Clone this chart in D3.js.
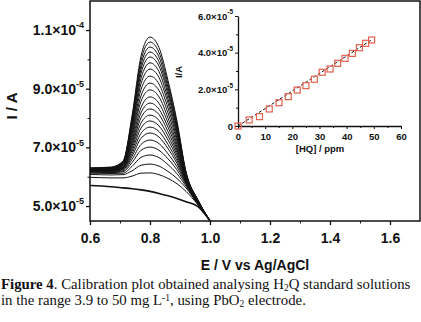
<!DOCTYPE html>
<html>
<head>
<meta charset="utf-8">
<script src="https://cdn.jsdelivr.net/npm/d3@7"></script>
<style>
  body { margin: 0; background: #fff; }
  svg { display: block; }
  .axis path, .axis line { stroke: #111; }
  .tick text { font-family: "Liberation Sans", Arial, sans-serif; font-weight: bold; fill: #111; }
</style>
</head>
<body>
<div id="chart-area"></div>
<script>
// potentials (V) where each voltammogram was read
var potentials = [0.60, 0.67, 0.71, 0.74, 0.77, 0.80, 0.83, 0.86, 0.89, 0.92, 0.96, 1.00]

// blank voltammogram, current in 1e-5 A
var blankCurve = [5.70, 5.66, 5.62, 5.59, 5.55, 5.50, 5.43, 5.35, 5.26, 5.15, 4.98, 4.50]

// voltammograms for increasing HQ additions, current in 1e-5 A
var currents = [
  [5.98, 5.96, 5.96, 6.02, 6.12, 6.13, 6.07, 5.94, 5.76, 5.50, 5.04, 4.50],
  [6.08, 6.06, 6.07, 6.20, 6.39, 6.43, 6.36, 6.18, 5.94, 5.62, 5.05, 4.50],
  [6.12, 6.11, 6.12, 6.35, 6.66, 6.74, 6.65, 6.41, 6.10, 5.68, 5.06, 4.50],
  [6.15, 6.14, 6.17, 6.48, 6.90, 7.01, 6.90, 6.61, 6.23, 5.73, 5.06, 4.50],
  [6.17, 6.16, 6.20, 6.59, 7.10, 7.25, 7.13, 6.78, 6.34, 5.77, 5.07, 4.50],
  [6.19, 6.18, 6.24, 6.69, 7.31, 7.49, 7.35, 6.96, 6.45, 5.80, 5.08, 4.50],
  [6.20, 6.20, 6.26, 6.78, 7.48, 7.69, 7.54, 7.10, 6.54, 5.83, 5.09, 4.50],
  [6.21, 6.21, 6.28, 6.87, 7.66, 7.90, 7.73, 7.25, 6.64, 5.85, 5.10, 4.50],
  [6.22, 6.22, 6.30, 6.96, 7.83, 8.10, 7.92, 7.39, 6.73, 5.88, 5.10, 4.50],
  [6.23, 6.23, 6.32, 7.05, 8.01, 8.31, 8.12, 7.54, 6.82, 5.91, 5.11, 4.50],
  [6.24, 6.24, 6.34, 7.13, 8.18, 8.51, 8.30, 7.69, 6.91, 5.93, 5.12, 4.50],
  [6.25, 6.26, 6.37, 7.22, 8.36, 8.72, 8.50, 7.84, 7.00, 5.96, 5.13, 4.50],
  [6.25, 6.26, 6.38, 7.32, 8.57, 8.96, 8.72, 8.00, 7.10, 5.98, 5.14, 4.50],
  [6.26, 6.27, 6.40, 7.42, 8.76, 9.19, 8.94, 8.17, 7.21, 6.00, 5.14, 4.50],
  [6.26, 6.27, 6.42, 7.51, 8.97, 9.43, 9.16, 8.34, 7.31, 6.02, 5.15, 4.50],
  [6.27, 6.29, 6.44, 7.61, 9.17, 9.67, 9.38, 8.51, 7.41, 6.05, 5.16, 4.50],
  [6.27, 6.29, 6.45, 7.70, 9.35, 9.88, 9.58, 8.65, 7.50, 6.07, 5.17, 4.50],
  [6.28, 6.30, 6.48, 7.78, 9.52, 10.08, 9.77, 8.80, 7.59, 6.09, 5.18, 4.50],
  [6.28, 6.30, 6.49, 7.85, 9.67, 10.25, 9.92, 8.92, 7.66, 6.11, 5.19, 4.50],
  [6.29, 6.31, 6.50, 7.93, 9.81, 10.42, 10.08, 9.04, 7.74, 6.13, 5.19, 4.50],
  [6.29, 6.31, 6.52, 7.99, 9.96, 10.59, 10.24, 9.16, 7.81, 6.14, 5.20, 4.50],
  [6.30, 6.33, 6.53, 8.07, 10.11, 10.76, 10.40, 9.28, 7.89, 6.17, 5.21, 4.50]
]

// calibration (inset): concentration in ppm, peak current in 1e-5 A
var concPpm = [0, 4.1, 7.9, 11.5, 15.1, 18.5, 21.8, 25.0, 28.1, 31.0, 33.9, 36.7, 39.4, 42.1, 44.7, 47.0, 49.2]
var peakCurrent = [0, 0.33, 0.51, 0.93, 1.27, 1.60, 1.96, 2.20, 2.55, 2.93, 3.11, 3.42, 3.69, 3.96, 4.27, 4.51, 4.69]
var fitConc = [0, 49.2]
var fitCurrent = [0, 4.70]

// tick labels
var mainXTicks = [0.6, 0.8, 1.0, 1.2, 1.4, 1.6]
var mainXMinor = [0.7, 0.9, 1.1, 1.3, 1.5]
var mainYTicks = [5, 7, 9, 11]
var mainYMinor = [6, 8, 10]
var mainYBase = ["5.0\u00d710", "7.0\u00d710", "9.0\u00d710", "1.1\u00d710"]
var mainYExp = ["-5", "-5", "-5", "-4"]
var insetXTicks = [0, 10, 20, 30, 40, 50, 60]
var insetXMinor = [5, 15, 25, 35, 45, 55]
var insetYTicks = [0, 2, 4, 6]
var insetYMinor = [1, 3, 5]
var insetYBase = ["0", "2.0\u00d710", "4.0\u00d710", "6.0\u00d710"]
var insetYExp = ["", "-5", "-5", "-5"]

var W = 421, H = 322

var svg = d3.select("#chart-area")
  .append("svg")
  .attr("width", W)
  .attr("height", H)

var font = "'Liberation Sans', Arial, sans-serif"

// ---------- main plot ----------
var x = d3.scaleLinear().domain([0.6, 1.7]).range([90, 420])
var y = d3.scaleLinear().domain([4.49, 11.99]).range([221, 1])

var line = d3.line()
  .x(function(d, i) { return x(potentials[i]) })
  .y(function(d) { return y(d) })
  .curve(d3.curveMonotoneX)

svg.append("g")
  .selectAll("path")
  .data(currents)
  .enter()
  .append("path")
  .attr("d", line)
  .attr("fill", "none")
  .attr("stroke", "#111")
  .attr("stroke-width", 1)

svg.append("path")
  .attr("d", line(blankCurve))
  .attr("fill", "none")
  .attr("stroke", "#111")
  .attr("stroke-width", 1.6)

// frame
svg.append("rect")
  .attr("x", x(0.6))
  .attr("y", y(11.99))
  .attr("width", x(1.7) - x(0.6))
  .attr("height", y(4.49) - y(11.99))
  .attr("fill", "none")
  .attr("stroke", "#111")
  .attr("stroke-width", 1.5)

var xAxis = svg.append("g")
  .attr("class", "axis")
  .attr("transform", "translate(0," + y(4.49) + ")")
  .call(d3.axisBottom(x).tickValues(mainXTicks).tickFormat(d3.format(".1f")).tickSize(4).tickSizeOuter(0))
xAxis.select(".domain").remove()
xAxis.selectAll("line").attr("stroke-width", 1.3)
xAxis.selectAll("text").attr("font-size", "14px").attr("dy", "1.05em")

svg.append("g")
  .attr("class", "axis")
  .attr("transform", "translate(0," + y(4.49) + ")")
  .call(d3.axisBottom(x).tickValues(mainXMinor).tickFormat("").tickSize(2.5).tickSizeOuter(0))
  .select(".domain").remove()

var yAxis = svg.append("g")
  .attr("class", "axis")
  .attr("transform", "translate(" + x(0.6) + ",0)")
  .call(d3.axisLeft(y).tickValues(mainYTicks).tickSize(4).tickSizeOuter(0))
yAxis.select(".domain").remove()
yAxis.selectAll("line").attr("stroke-width", 1.3)
yAxis.selectAll(".tick text")
  .attr("font-size", "14px")
  .attr("x", -6)
  .text(null)
  .each(function(d, i) {
    var t = d3.select(this)
    t.append("tspan").text(mainYBase[i])
    t.append("tspan").text(mainYExp[i]).attr("font-size", "9px").attr("dy", "-0.75em")
  })

svg.append("g")
  .attr("class", "axis")
  .attr("transform", "translate(" + x(0.6) + ",0)")
  .call(d3.axisLeft(y).tickValues(mainYMinor).tickFormat("").tickSize(2.5).tickSizeOuter(0))
  .select(".domain").remove()

svg.append("text")
  .text("I / A")
  .attr("transform", "translate(17,106) rotate(-90)")
  .attr("text-anchor", "middle")
  .attr("font-family", font)
  .attr("font-weight", "bold")
  .attr("font-size", "15px")
  .attr("fill", "#111")

svg.append("text")
  .text("E / V vs Ag/AgCl")
  .attr("x", 255)
  .attr("y", 270)
  .attr("text-anchor", "middle")
  .attr("font-family", font)
  .attr("font-weight", "bold")
  .attr("font-size", "14px")
  .attr("fill", "#111")

// ---------- inset ----------
var ix = d3.scaleLinear().domain([0, 60]).range([238, 401])
var iy = d3.scaleLinear().domain([0, 6]).range([126, 16])

var ixAxis = svg.append("g")
  .attr("class", "axis")
  .attr("transform", "translate(0," + iy(0) + ")")
  .call(d3.axisBottom(ix).tickValues(insetXTicks).tickSize(3).tickSizeOuter(0))
ixAxis.select(".domain").attr("stroke-width", 1.3)
ixAxis.selectAll("text").attr("font-size", "9.5px").attr("dy", "0.85em")

svg.append("g")
  .attr("class", "axis")
  .attr("transform", "translate(0," + iy(0) + ")")
  .call(d3.axisBottom(ix).tickValues(insetXMinor).tickFormat("").tickSize(2).tickSizeOuter(0))
  .select(".domain").remove()

var iyAxis = svg.append("g")
  .attr("class", "axis")
  .attr("transform", "translate(" + ix(0) + ",0)")
  .call(d3.axisLeft(iy).tickValues(insetYTicks).tickSize(3).tickSizeOuter(0))
iyAxis.select(".domain").attr("stroke-width", 1.3)
iyAxis.selectAll(".tick text")
  .attr("font-size", "9.5px")
  .attr("x", -5)
  .text(null)
  .each(function(d, i) {
    var t = d3.select(this)
    t.append("tspan").text(insetYBase[i])
    if (insetYExp[i]) {
      t.append("tspan").text(insetYExp[i]).attr("font-size", "6.5px").attr("dy", "-0.8em")
    }
  })

svg.append("g")
  .attr("class", "axis")
  .attr("transform", "translate(" + ix(0) + ",0)")
  .call(d3.axisLeft(iy).tickValues(insetYMinor).tickFormat("").tickSize(2).tickSizeOuter(0))
  .select(".domain").remove()

// linear fit
svg.append("line")
  .attr("x1", ix(fitConc[0]))
  .attr("y1", iy(fitCurrent[0]))
  .attr("x2", ix(fitConc[1]))
  .attr("y2", iy(fitCurrent[1]))
  .attr("stroke", "#111")
  .attr("stroke-width", 1)
  .attr("stroke-dasharray", "3,2")

svg.append("g")
  .selectAll("rect")
  .data(concPpm)
  .enter()
  .append("rect")
  .attr("x", function(d) { return ix(d) - 3 })
  .attr("y", function(d, i) { return iy(peakCurrent[i]) - 3 })
  .attr("width", 6)
  .attr("height", 6)
  .attr("fill", "none")
  .attr("stroke", "#e5604e")
  .attr("stroke-width", 1.2)

svg.append("text")
  .text("I/A")
  .attr("transform", "translate(182,72) rotate(-90)")
  .attr("text-anchor", "middle")
  .attr("font-family", font)
  .attr("font-weight", "bold")
  .attr("font-size", "9.5px")
  .attr("fill", "#111")

svg.append("text")
  .text("[HQ] / ppm")
  .attr("x", 320)
  .attr("y", 152)
  .attr("text-anchor", "middle")
  .attr("font-family", font)
  .attr("font-weight", "bold")
  .attr("font-size", "9.5px")
  .attr("fill", "#111")

// ---------- caption ----------
var serif = "'Liberation Serif', 'Times New Roman', serif"
var cap1 = svg.append("text")
  .attr("x", 1)
  .attr("y", 289)
  .attr("font-family", serif)
  .attr("font-size", "14.8px")
  .attr("fill", "#111")
cap1.append("tspan").text("Figure 4").attr("font-weight", "bold")
cap1.append("tspan").text(". Calibration plot obtained analysing H")
cap1.append("tspan").text("2").attr("font-size", "9.5px").attr("dy", "1.5")
cap1.append("tspan").text("Q standard solutions").attr("dy", "-1.5")

var cap2 = svg.append("text")
  .attr("x", 1)
  .attr("y", 305)
  .attr("font-family", serif)
  .attr("font-size", "14.8px")
  .attr("fill", "#111")
cap2.append("tspan").text("in the range 3.9 to 50 mg L")
cap2.append("tspan").text("-1").attr("font-size", "9.5px").attr("dy", "-4")
cap2.append("tspan").text(", using PbO").attr("dy", "4")
cap2.append("tspan").text("2").attr("font-size", "9.5px").attr("dy", "2")
cap2.append("tspan").text(" electrode.").attr("dy", "-2")
</script>
</body>
</html>
